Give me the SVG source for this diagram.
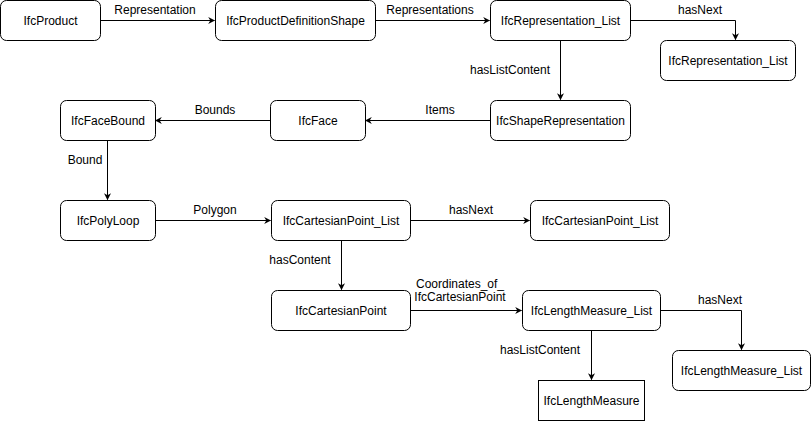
<svg xmlns="http://www.w3.org/2000/svg" width="812" height="422" viewBox="0 0 812 422">
<defs>
<marker id="arr" viewBox="0 0 10 10" refX="9" refY="5" markerWidth="7" markerHeight="7" markerUnits="userSpaceOnUse" orient="auto">
<path d="M0,0 L10,5 L0,10 L3,5 Z" fill="#000"/>
</marker>
</defs>
<style>
.n{fill:#fff;stroke:#000;stroke-width:1}
.t{font-family:"Liberation Sans",Arial,sans-serif;font-size:12px;fill:#000;text-anchor:middle}
.l{font-family:"Liberation Sans",Arial,sans-serif;font-size:12px;fill:#000;text-anchor:middle}
.c{fill:none;stroke:#000;stroke-width:1;marker-end:url(#arr)}
</style>
<rect width="812" height="422" fill="#fff"/>
<g id="connectors">
<path class="c" d="M100.5,20.5 H214.5"/>
<text class="l" x="155" y="14">Representation</text>
<path class="c" d="M375.5,20.5 H489.5"/>
<text class="l" x="430" y="14">Representations</text>
<path class="c" d="M630.5,20.5 H735.5 V39.5"/>
<text class="l" x="700" y="14">hasNext</text>
<path class="c" d="M560.5,40.5 V99.5"/>
<text class="l" x="510" y="74">hasListContent</text>
<path class="c" d="M490.5,120.5 H365.5"/>
<text class="l" x="440" y="114">Items</text>
<path class="c" d="M270.5,120.5 H155.5"/>
<text class="l" x="215" y="114">Bounds</text>
<path class="c" d="M107.5,140.5 V199.5"/>
<text class="l" x="85" y="164">Bound</text>
<path class="c" d="M155.5,220.5 H270.5"/>
<text class="l" x="215" y="214">Polygon</text>
<path class="c" d="M410.5,220.5 H529.5"/>
<text class="l" x="471" y="214">hasNext</text>
<path class="c" d="M341.5,240.5 V289.5"/>
<text class="l" x="300" y="264">hasContent</text>
<path class="c" d="M410.5,310.5 H521.5"/>
<text class="l" x="460" y="288">Coordinates_of_</text>
<text class="l" x="460" y="301">IfcCartesianPoint</text>
<path class="c" d="M660.5,310.5 H741.5 V349.5"/>
<text class="l" x="720" y="304">hasNext</text>
<path class="c" d="M591.5,330.5 V379.5"/>
<text class="l" x="540" y="354">hasListContent</text>
</g>
<g id="IfcProduct"><rect class="n" x="0.5" y="0.5" width="100" height="40" rx="6"/><text class="t" x="50.5" y="24.5">IfcProduct</text></g>
<g id="IfcProductDefinitionShape"><rect class="n" x="215.5" y="0.5" width="160" height="40" rx="6"/><text class="t" x="295.5" y="24.5">IfcProductDefinitionShape</text></g>
<g id="IfcRepresentation_List"><rect class="n" x="490.5" y="0.5" width="140" height="40" rx="6"/><text class="t" x="560.5" y="24.5">IfcRepresentation_List</text></g>
<g id="IfcRepresentation_List2"><rect class="n" x="660.5" y="40.5" width="135" height="40" rx="6"/><text class="t" x="728" y="64.5">IfcRepresentation_List</text></g>
<g id="IfcShapeRepresentation"><rect class="n" x="490.5" y="100.5" width="140" height="40" rx="6"/><text class="t" x="560.5" y="124.5">IfcShapeRepresentation</text></g>
<g id="IfcFace"><rect class="n" x="270.5" y="100.5" width="95" height="40" rx="6"/><text class="t" x="318" y="124.5">IfcFace</text></g>
<g id="IfcFaceBound"><rect class="n" x="60.5" y="100.5" width="95" height="40" rx="6"/><text class="t" x="108" y="124.5">IfcFaceBound</text></g>
<g id="IfcPolyLoop"><rect class="n" x="60.5" y="200.5" width="95" height="40" rx="6"/><text class="t" x="108" y="224.5">IfcPolyLoop</text></g>
<g id="IfcCartesianPoint_List"><rect class="n" x="271.5" y="200.5" width="139" height="40" rx="6"/><text class="t" x="341" y="224.5">IfcCartesianPoint_List</text></g>
<g id="IfcCartesianPoint_List2"><rect class="n" x="530.5" y="200.5" width="139" height="40" rx="6"/><text class="t" x="600" y="224.5">IfcCartesianPoint_List</text></g>
<g id="IfcCartesianPoint"><rect class="n" x="271.5" y="290.5" width="139" height="40" rx="6"/><text class="t" x="341" y="314.5">IfcCartesianPoint</text></g>
<g id="IfcLengthMeasure_List"><rect class="n" x="522.5" y="290.5" width="138" height="40" rx="6"/><text class="t" x="591.5" y="314.5">IfcLengthMeasure_List</text></g>
<g id="IfcLengthMeasure_List2"><rect class="n" x="672.5" y="350.5" width="138" height="40" rx="6"/><text class="t" x="741.5" y="374.5">IfcLengthMeasure_List</text></g>
<g id="IfcLengthMeasure"><rect class="n" x="538.5" y="380.5" width="106" height="40"/><text class="t" x="591.5" y="404.5">IfcLengthMeasure</text></g>
</svg>
